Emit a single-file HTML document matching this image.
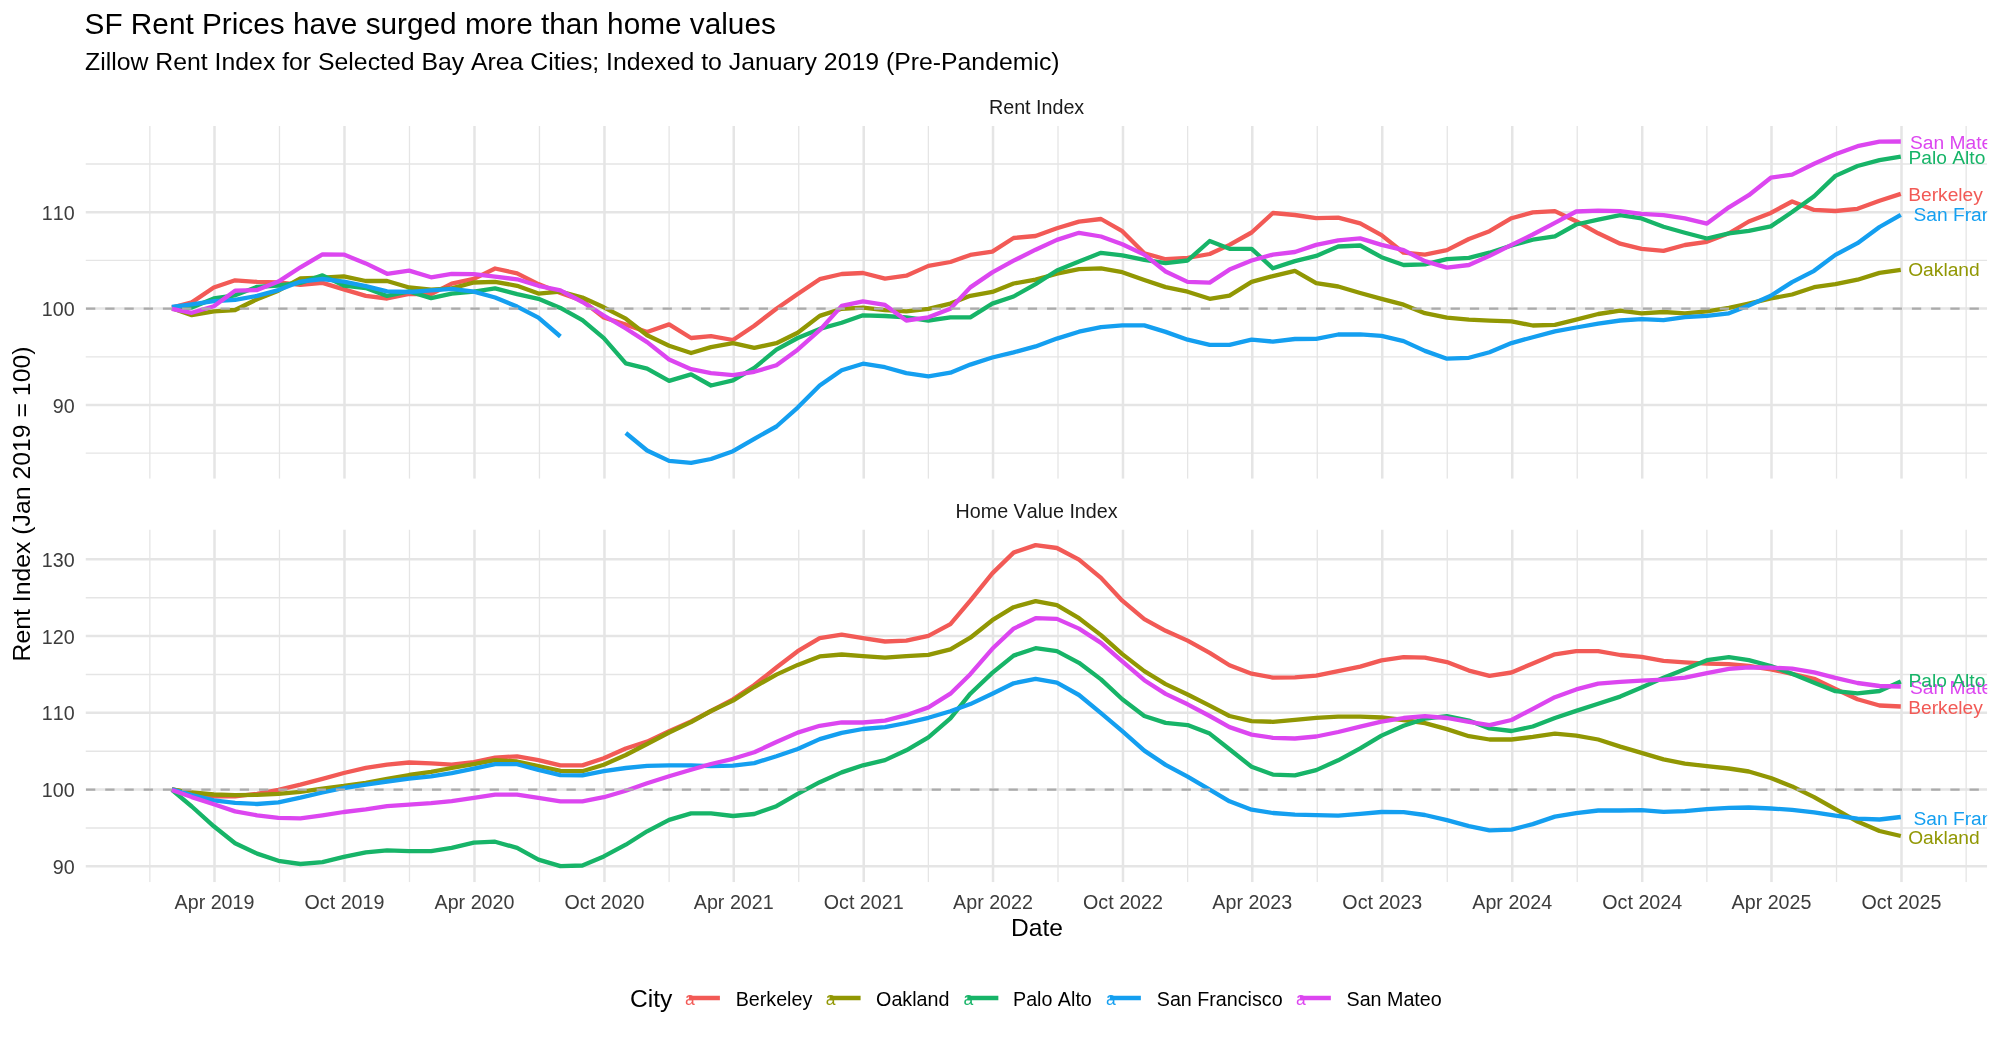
<!DOCTYPE html><html><head><meta charset="utf-8"><title>SF Rent Prices</title><style>
html,body{margin:0;padding:0;background:#fff;width:2000px;height:1042px;overflow:hidden}
svg{display:block;will-change:transform}text{font-family:"Liberation Sans",sans-serif;font-kerning:none}
</style></head><body>
<svg width="2000" height="1042" viewBox="0 0 2000 1042">
<defs>
<clipPath id="cT"><rect x="85.5" y="126.0" width="1901.7" height="352.8"/></clipPath>
<clipPath id="cB"><rect x="85.5" y="529.4" width="1901.7" height="352.8"/></clipPath>
</defs>
<text x="84.60" y="34.00" font-size="29.75" fill="#000">SF Rent Prices have surged more than home values</text>
<text x="85.10" y="70.00" font-size="24.8" fill="#000">Zillow Rent Index for Selected Bay Area Cities; Indexed to January 2019 (Pre-Pandemic)</text>
<g clip-path="url(#cT)" stroke="#E5E5E5">
<line x1="85.5" x2="1987.2" y1="453.20" y2="453.20" stroke-width="1.3"/>
<line x1="85.5" x2="1987.2" y1="356.80" y2="356.80" stroke-width="1.3"/>
<line x1="85.5" x2="1987.2" y1="260.40" y2="260.40" stroke-width="1.3"/>
<line x1="85.5" x2="1987.2" y1="164.00" y2="164.00" stroke-width="1.3"/>
<line x1="149.86" x2="149.86" y1="126.0" y2="478.8" stroke-width="1.3"/>
<line x1="279.49" x2="279.49" y1="126.0" y2="478.8" stroke-width="1.3"/>
<line x1="409.48" x2="409.48" y1="126.0" y2="478.8" stroke-width="1.3"/>
<line x1="539.47" x2="539.47" y1="126.0" y2="478.8" stroke-width="1.3"/>
<line x1="669.10" x2="669.10" y1="126.0" y2="478.8" stroke-width="1.3"/>
<line x1="798.73" x2="798.73" y1="126.0" y2="478.8" stroke-width="1.3"/>
<line x1="928.37" x2="928.37" y1="126.0" y2="478.8" stroke-width="1.3"/>
<line x1="1058.00" x2="1058.00" y1="126.0" y2="478.8" stroke-width="1.3"/>
<line x1="1187.63" x2="1187.63" y1="126.0" y2="478.8" stroke-width="1.3"/>
<line x1="1317.27" x2="1317.27" y1="126.0" y2="478.8" stroke-width="1.3"/>
<line x1="1447.25" x2="1447.25" y1="126.0" y2="478.8" stroke-width="1.3"/>
<line x1="1577.24" x2="1577.24" y1="126.0" y2="478.8" stroke-width="1.3"/>
<line x1="1706.87" x2="1706.87" y1="126.0" y2="478.8" stroke-width="1.3"/>
<line x1="1836.51" x2="1836.51" y1="126.0" y2="478.8" stroke-width="1.3"/>
<line x1="1966.14" x2="1966.14" y1="126.0" y2="478.8" stroke-width="1.3"/>
<line x1="85.5" x2="1987.2" y1="405.00" y2="405.00" stroke-width="2.5"/>
<line x1="85.5" x2="1987.2" y1="308.60" y2="308.60" stroke-width="2.5"/>
<line x1="85.5" x2="1987.2" y1="212.20" y2="212.20" stroke-width="2.5"/>
<line x1="214.50" x2="214.50" y1="126.0" y2="478.8" stroke-width="2.5"/>
<line x1="344.49" x2="344.49" y1="126.0" y2="478.8" stroke-width="2.5"/>
<line x1="474.48" x2="474.48" y1="126.0" y2="478.8" stroke-width="2.5"/>
<line x1="604.46" x2="604.46" y1="126.0" y2="478.8" stroke-width="2.5"/>
<line x1="733.74" x2="733.74" y1="126.0" y2="478.8" stroke-width="2.5"/>
<line x1="863.73" x2="863.73" y1="126.0" y2="478.8" stroke-width="2.5"/>
<line x1="993.01" x2="993.01" y1="126.0" y2="478.8" stroke-width="2.5"/>
<line x1="1122.99" x2="1122.99" y1="126.0" y2="478.8" stroke-width="2.5"/>
<line x1="1252.27" x2="1252.27" y1="126.0" y2="478.8" stroke-width="2.5"/>
<line x1="1382.26" x2="1382.26" y1="126.0" y2="478.8" stroke-width="2.5"/>
<line x1="1512.25" x2="1512.25" y1="126.0" y2="478.8" stroke-width="2.5"/>
<line x1="1642.23" x2="1642.23" y1="126.0" y2="478.8" stroke-width="2.5"/>
<line x1="1771.51" x2="1771.51" y1="126.0" y2="478.8" stroke-width="2.5"/>
<line x1="1901.50" x2="1901.50" y1="126.0" y2="478.8" stroke-width="2.5"/>
</g>
<g clip-path="url(#cB)" stroke="#E5E5E5">
<line x1="85.5" x2="1987.2" y1="827.98" y2="827.98" stroke-width="1.3"/>
<line x1="85.5" x2="1987.2" y1="751.23" y2="751.23" stroke-width="1.3"/>
<line x1="85.5" x2="1987.2" y1="674.48" y2="674.48" stroke-width="1.3"/>
<line x1="85.5" x2="1987.2" y1="597.73" y2="597.73" stroke-width="1.3"/>
<line x1="149.86" x2="149.86" y1="529.4" y2="882.2" stroke-width="1.3"/>
<line x1="279.49" x2="279.49" y1="529.4" y2="882.2" stroke-width="1.3"/>
<line x1="409.48" x2="409.48" y1="529.4" y2="882.2" stroke-width="1.3"/>
<line x1="539.47" x2="539.47" y1="529.4" y2="882.2" stroke-width="1.3"/>
<line x1="669.10" x2="669.10" y1="529.4" y2="882.2" stroke-width="1.3"/>
<line x1="798.73" x2="798.73" y1="529.4" y2="882.2" stroke-width="1.3"/>
<line x1="928.37" x2="928.37" y1="529.4" y2="882.2" stroke-width="1.3"/>
<line x1="1058.00" x2="1058.00" y1="529.4" y2="882.2" stroke-width="1.3"/>
<line x1="1187.63" x2="1187.63" y1="529.4" y2="882.2" stroke-width="1.3"/>
<line x1="1317.27" x2="1317.27" y1="529.4" y2="882.2" stroke-width="1.3"/>
<line x1="1447.25" x2="1447.25" y1="529.4" y2="882.2" stroke-width="1.3"/>
<line x1="1577.24" x2="1577.24" y1="529.4" y2="882.2" stroke-width="1.3"/>
<line x1="1706.87" x2="1706.87" y1="529.4" y2="882.2" stroke-width="1.3"/>
<line x1="1836.51" x2="1836.51" y1="529.4" y2="882.2" stroke-width="1.3"/>
<line x1="1966.14" x2="1966.14" y1="529.4" y2="882.2" stroke-width="1.3"/>
<line x1="85.5" x2="1987.2" y1="866.35" y2="866.35" stroke-width="2.5"/>
<line x1="85.5" x2="1987.2" y1="789.60" y2="789.60" stroke-width="2.5"/>
<line x1="85.5" x2="1987.2" y1="712.85" y2="712.85" stroke-width="2.5"/>
<line x1="85.5" x2="1987.2" y1="636.10" y2="636.10" stroke-width="2.5"/>
<line x1="85.5" x2="1987.2" y1="559.35" y2="559.35" stroke-width="2.5"/>
<line x1="214.50" x2="214.50" y1="529.4" y2="882.2" stroke-width="2.5"/>
<line x1="344.49" x2="344.49" y1="529.4" y2="882.2" stroke-width="2.5"/>
<line x1="474.48" x2="474.48" y1="529.4" y2="882.2" stroke-width="2.5"/>
<line x1="604.46" x2="604.46" y1="529.4" y2="882.2" stroke-width="2.5"/>
<line x1="733.74" x2="733.74" y1="529.4" y2="882.2" stroke-width="2.5"/>
<line x1="863.73" x2="863.73" y1="529.4" y2="882.2" stroke-width="2.5"/>
<line x1="993.01" x2="993.01" y1="529.4" y2="882.2" stroke-width="2.5"/>
<line x1="1122.99" x2="1122.99" y1="529.4" y2="882.2" stroke-width="2.5"/>
<line x1="1252.27" x2="1252.27" y1="529.4" y2="882.2" stroke-width="2.5"/>
<line x1="1382.26" x2="1382.26" y1="529.4" y2="882.2" stroke-width="2.5"/>
<line x1="1512.25" x2="1512.25" y1="529.4" y2="882.2" stroke-width="2.5"/>
<line x1="1642.23" x2="1642.23" y1="529.4" y2="882.2" stroke-width="2.5"/>
<line x1="1771.51" x2="1771.51" y1="529.4" y2="882.2" stroke-width="2.5"/>
<line x1="1901.50" x2="1901.50" y1="529.4" y2="882.2" stroke-width="2.5"/>
</g>
<g clip-path="url(#cT)" fill="none" stroke-width="4.3" stroke-linejoin="round" stroke-linecap="butt">
<polyline points="171.9,307.6 191.8,302.4 213.8,287.5 235.1,280.3 257.1,281.9 278.4,282.3 300.4,284.9 322.5,282.9 343.8,289.4 365.8,295.9 387.1,298.5 409.1,294.0 431.1,294.2 451.7,283.6 473.8,278.9 495.1,268.5 517.1,273.4 538.4,284.1 560.4,292.9 582.4,300.7 603.8,317.5 625.8,324.6 647.1,332.0 669.1,324.4 691.1,338.0 711.0,336.1 733.0,340.0 754.3,325.7 776.4,308.8 797.7,294.1 819.7,279.2 841.7,274.0 863.0,273.0 885.0,278.7 906.3,275.7 928.4,265.9 950.4,262.0 970.3,254.9 992.3,251.6 1013.6,238.0 1035.6,236.0 1056.9,228.2 1079.0,221.6 1101.0,219.0 1122.3,231.2 1144.3,253.3 1165.6,259.2 1187.6,257.9 1209.7,254.0 1229.5,244.9 1251.6,232.5 1272.9,213.0 1294.9,215.0 1316.2,218.2 1338.2,217.6 1360.2,223.4 1381.5,235.1 1403.6,252.7 1424.9,254.6 1446.9,250.1 1468.9,239.0 1489.5,231.2 1511.5,218.2 1532.8,212.4 1554.9,211.1 1576.2,221.2 1598.2,233.3 1620.2,243.7 1641.5,248.9 1663.5,250.9 1684.9,245.0 1706.9,241.8 1728.9,233.3 1748.8,221.5 1770.8,212.9 1792.1,201.5 1814.1,209.9 1835.4,211.0 1857.5,208.8 1879.5,200.7 1900.8,193.9" stroke="#F25A56"/>
<polyline points="171.9,308.3 191.8,315.2 213.8,311.3 235.1,310.0 257.1,299.2 278.4,290.7 300.4,278.4 322.5,277.7 343.8,276.4 365.8,281.0 387.1,281.0 409.1,287.5 431.1,289.7 451.7,288.4 473.8,282.5 495.1,281.9 517.1,285.8 538.4,293.6 560.4,291.6 582.4,297.5 603.8,307.3 625.8,318.7 647.1,335.3 669.1,345.8 691.1,353.0 711.0,347.1 733.0,343.2 754.3,347.8 776.4,343.2 797.7,332.8 819.7,315.9 841.7,308.8 863.0,307.6 885.0,310.1 906.3,311.4 928.4,308.8 950.4,303.6 970.3,295.8 992.3,291.9 1013.6,283.5 1035.6,279.6 1056.9,273.7 1079.0,269.2 1101.0,268.4 1122.3,272.2 1144.3,280.0 1165.6,287.1 1187.6,291.7 1209.7,298.8 1229.5,295.6 1251.6,281.9 1272.9,276.1 1294.9,270.9 1316.2,283.2 1338.2,286.5 1360.2,293.0 1381.5,298.9 1403.6,304.7 1424.9,313.2 1446.9,317.7 1468.9,319.7 1489.5,320.6 1511.5,321.4 1532.8,325.5 1554.9,324.9 1576.2,319.7 1598.2,314.0 1620.2,310.7 1641.5,313.3 1663.5,312.0 1684.9,313.3 1706.9,311.4 1728.9,307.9 1748.8,303.6 1770.8,298.4 1792.1,294.5 1814.1,287.2 1835.4,284.2 1857.5,279.7 1879.5,272.9 1900.8,269.8" stroke="#919703"/>
<polyline points="171.9,307.6 191.8,307.6 213.8,298.5 235.1,295.3 257.1,286.8 278.4,285.5 300.4,282.9 322.5,275.4 343.8,285.5 365.8,288.1 387.1,295.9 409.1,291.4 431.1,298.1 451.7,293.6 473.8,291.6 495.1,288.4 517.1,294.2 538.4,298.8 560.4,307.9 582.4,320.2 603.8,338.2 625.8,363.4 647.1,368.6 669.1,380.9 691.1,374.4 711.0,385.5 733.0,380.3 754.3,367.9 776.4,349.7 797.7,338.0 819.7,328.9 841.7,322.8 863.0,315.3 885.0,316.0 906.3,317.3 928.4,320.5 950.4,317.3 970.3,317.3 992.3,303.6 1013.6,296.5 1035.6,284.1 1056.9,270.5 1079.0,261.6 1101.0,252.8 1122.3,255.3 1144.3,259.8 1165.6,263.1 1187.6,260.5 1209.7,241.0 1229.5,248.8 1251.6,248.8 1272.9,268.3 1294.9,261.1 1316.2,255.9 1338.2,246.5 1360.2,245.5 1381.5,257.2 1403.6,265.0 1424.9,264.4 1446.9,259.2 1468.9,257.9 1489.5,252.7 1511.5,245.5 1532.8,239.7 1554.9,236.4 1576.2,224.5 1598.2,219.7 1620.2,215.1 1641.5,218.4 1663.5,226.8 1684.9,232.7 1706.9,238.5 1728.9,233.3 1748.8,230.8 1770.8,226.4 1792.1,212.0 1814.1,196.2 1835.4,175.9 1857.5,166.0 1879.5,160.2 1900.8,156.6" stroke="#17B468"/>
<polyline points="171.9,307.0 191.8,304.4 213.8,301.1 235.1,299.8 257.1,295.9 278.4,290.1 300.4,281.6 322.5,279.0 343.8,281.6 365.8,286.2 387.1,291.4 409.1,292.0 431.1,290.3 451.7,288.8 473.8,291.6 495.1,297.5 517.1,306.6 538.4,317.6 560.4,336.5" stroke="#149FF0"/>
<polyline points="625.8,433.0 647.1,450.5 669.1,460.9 691.1,462.9 711.0,459.0 733.0,451.2 754.3,438.8 776.4,426.5 797.7,407.6 819.7,385.5 841.7,370.2 863.0,363.7 885.0,367.2 906.3,373.1 928.4,376.3 950.4,372.7 970.3,364.6 992.3,357.5 1013.6,352.3 1035.6,346.4 1056.9,338.6 1079.0,331.7 1101.0,327.1 1122.3,325.4 1144.3,325.4 1165.6,331.9 1187.6,339.7 1209.7,344.9 1229.5,344.9 1251.6,339.7 1272.9,341.6 1294.9,339.0 1316.2,338.8 1338.2,334.5 1360.2,334.4 1381.5,335.9 1403.6,341.1 1424.9,350.9 1446.9,358.7 1468.9,357.8 1489.5,352.2 1511.5,343.1 1532.8,337.2 1554.9,331.4 1576.2,327.5 1598.2,323.7 1620.2,320.5 1641.5,319.2 1663.5,320.1 1684.9,317.2 1706.9,315.9 1728.9,313.3 1748.8,305.5 1770.8,295.8 1792.1,282.1 1814.1,270.8 1835.4,254.9 1857.5,243.2 1879.5,227.0 1900.8,214.9" stroke="#149FF0"/>
<polyline points="171.9,308.9 191.8,312.8 213.8,306.3 235.1,290.7 257.1,290.1 278.4,281.6 300.4,267.3 322.5,254.3 343.8,254.6 365.8,263.4 387.1,273.8 409.1,270.6 431.1,277.3 451.7,273.8 473.8,274.1 495.1,276.7 517.1,279.3 538.4,285.8 560.4,290.3 582.4,302.0 603.8,315.5 625.8,328.5 647.1,342.1 669.1,359.5 691.1,369.2 711.0,373.1 733.0,375.1 754.3,371.8 776.4,365.3 797.7,349.7 819.7,330.2 841.7,305.9 863.0,301.3 885.0,304.9 906.3,320.5 928.4,317.3 950.4,308.8 970.3,287.4 992.3,272.4 1013.6,260.7 1035.6,249.7 1056.9,239.9 1079.0,232.8 1101.0,236.5 1122.3,244.2 1144.3,254.6 1165.6,271.5 1187.6,281.9 1209.7,282.6 1229.5,269.6 1251.6,260.5 1272.9,254.6 1294.9,252.0 1316.2,244.9 1338.2,240.3 1360.2,238.4 1381.5,244.9 1403.6,250.1 1424.9,261.1 1446.9,267.6 1468.9,265.0 1489.5,255.9 1511.5,244.9 1532.8,234.5 1554.9,222.8 1576.2,211.5 1598.2,210.6 1620.2,211.2 1641.5,213.8 1663.5,215.1 1684.9,218.4 1706.9,223.6 1728.9,207.3 1748.8,195.2 1770.8,177.7 1792.1,174.6 1814.1,163.8 1835.4,154.3 1857.5,146.2 1879.5,141.7 1900.8,141.5" stroke="#DC46F0"/>
</g>
<g clip-path="url(#cB)" fill="none" stroke-width="4.3" stroke-linejoin="round" stroke-linecap="butt">
<polyline points="171.9,789.3 191.8,793.2 213.8,796.4 235.1,796.4 257.1,793.8 278.4,789.9 300.4,784.7 322.5,778.9 343.8,773.0 365.8,767.8 387.1,764.6 409.1,762.5 431.1,763.4 451.7,764.7 473.8,762.1 495.1,757.6 517.1,756.3 538.4,760.2 560.4,765.4 582.4,765.4 603.8,758.2 625.8,748.5 647.1,741.6 669.1,731.2 691.1,721.4 711.0,711.0 733.0,699.3 754.3,685.0 776.4,667.5 797.7,651.2 819.7,638.2 841.7,634.6 863.0,638.2 885.0,641.5 906.3,640.6 928.4,635.8 950.4,624.1 970.3,600.7 992.3,573.4 1013.6,552.6 1035.6,545.1 1056.9,548.0 1079.0,559.7 1101.0,577.9 1122.3,600.7 1144.3,619.1 1165.6,630.8 1187.6,640.6 1209.7,652.9 1229.5,665.3 1251.6,673.7 1272.9,677.6 1294.9,677.4 1316.2,675.7 1338.2,671.1 1360.2,666.6 1381.5,660.4 1403.6,657.2 1424.9,657.6 1446.9,662.1 1468.9,670.6 1489.5,675.8 1511.5,672.5 1532.8,663.4 1554.9,654.3 1576.2,651.1 1598.2,651.1 1620.2,655.0 1641.5,656.9 1663.5,660.8 1684.9,662.4 1706.9,663.7 1728.9,664.1 1748.8,666.0 1770.8,669.3 1792.1,673.8 1814.1,678.8 1835.4,689.0 1857.5,699.2 1879.5,705.5 1900.8,706.5" stroke="#F25A56"/>
<polyline points="171.9,789.3 191.8,792.5 213.8,794.5 235.1,795.1 257.1,794.9 278.4,793.8 300.4,791.9 322.5,788.6 343.8,786.0 365.8,782.8 387.1,778.9 409.1,775.0 431.1,771.9 451.7,768.0 473.8,764.1 495.1,760.2 517.1,761.5 538.4,766.0 560.4,770.9 582.4,771.2 603.8,764.7 625.8,755.0 647.1,744.0 669.1,732.5 691.1,722.1 711.0,711.0 733.0,700.6 754.3,687.0 776.4,674.6 797.7,664.9 819.7,656.4 841.7,654.5 863.0,656.2 885.0,657.7 906.3,656.2 928.4,654.9 950.4,649.4 970.3,637.7 992.3,620.2 1013.6,607.2 1035.6,601.1 1056.9,605.2 1079.0,618.2 1101.0,635.1 1122.3,654.1 1144.3,671.1 1165.6,684.1 1187.6,694.5 1209.7,705.6 1229.5,716.0 1251.6,721.2 1272.9,721.8 1294.9,719.9 1316.2,717.9 1338.2,716.6 1360.2,716.7 1381.5,717.5 1403.6,720.0 1424.9,723.2 1446.9,729.1 1468.9,736.2 1489.5,739.5 1511.5,739.5 1532.8,736.9 1554.9,733.6 1576.2,735.6 1598.2,739.5 1620.2,746.6 1641.5,752.9 1663.5,759.4 1684.9,763.6 1706.9,766.2 1728.9,768.5 1748.8,771.5 1770.8,778.0 1792.1,786.4 1814.1,797.1 1835.4,809.2 1857.5,821.6 1879.5,831.0 1900.8,836.0" stroke="#919703"/>
<polyline points="171.9,789.9 191.8,806.5 213.8,826.3 235.1,843.2 257.1,853.6 278.4,860.8 300.4,864.0 322.5,862.1 343.8,856.9 365.8,852.3 387.1,850.4 409.1,851.1 431.1,851.2 451.7,847.9 473.8,842.7 495.1,841.7 517.1,847.9 538.4,859.6 560.4,866.1 582.4,865.5 603.8,856.4 625.8,844.7 647.1,831.3 669.1,819.9 691.1,813.4 711.0,813.4 733.0,816.0 754.3,814.0 776.4,806.2 797.7,793.9 819.7,782.2 841.7,772.4 863.0,765.3 885.0,760.1 906.3,750.3 928.4,737.3 950.4,718.4 970.3,693.7 992.3,672.9 1013.6,655.6 1035.6,648.2 1056.9,651.1 1079.0,662.8 1101.0,679.4 1122.3,699.3 1144.3,716.0 1165.6,722.9 1187.6,725.1 1209.7,733.6 1229.5,749.3 1251.6,766.8 1272.9,774.6 1294.9,775.3 1316.2,770.1 1338.2,760.3 1360.2,748.3 1381.5,735.6 1403.6,725.8 1424.9,718.7 1446.9,716.1 1468.9,720.6 1489.5,728.4 1511.5,731.0 1532.8,726.5 1554.9,718.0 1576.2,710.9 1598.2,703.7 1620.2,696.6 1641.5,687.5 1663.5,677.7 1684.9,669.3 1706.9,660.2 1728.9,657.2 1748.8,660.2 1770.8,666.0 1792.1,673.8 1814.1,682.7 1835.4,691.2 1857.5,693.4 1879.5,691.0 1900.8,681.5" stroke="#17B468"/>
<polyline points="171.9,789.3 191.8,795.1 213.8,800.3 235.1,802.9 257.1,804.0 278.4,802.3 300.4,797.7 322.5,792.5 343.8,788.0 365.8,784.7 387.1,781.5 409.1,778.6 431.1,776.4 451.7,773.2 473.8,768.6 495.1,764.1 517.1,764.1 538.4,769.9 560.4,775.1 582.4,775.4 603.8,771.2 625.8,768.0 647.1,765.8 669.1,765.3 691.1,765.3 711.0,766.2 733.0,765.7 754.3,763.1 776.4,756.2 797.7,749.0 819.7,739.1 841.7,732.9 863.0,729.0 885.0,727.1 906.3,723.0 928.4,717.8 950.4,711.3 970.3,704.1 992.3,693.7 1013.6,683.3 1035.6,678.8 1056.9,682.7 1079.0,695.0 1101.0,713.2 1122.3,731.2 1144.3,750.6 1165.6,764.9 1187.6,776.6 1209.7,789.6 1229.5,801.3 1251.6,809.7 1272.9,813.0 1294.9,814.7 1316.2,815.2 1338.2,815.6 1360.2,813.8 1381.5,812.0 1403.6,812.2 1424.9,815.0 1446.9,820.2 1468.9,826.1 1489.5,830.4 1511.5,829.6 1532.8,824.1 1554.9,816.6 1576.2,813.1 1598.2,810.5 1620.2,810.5 1641.5,810.2 1663.5,811.8 1684.9,811.1 1706.9,809.2 1728.9,807.9 1748.8,807.5 1770.8,808.5 1792.1,809.8 1814.1,812.3 1835.4,815.7 1857.5,818.7 1879.5,819.5 1900.8,817.0" stroke="#149FF0"/>
<polyline points="171.9,789.9 191.8,797.1 213.8,804.2 235.1,811.4 257.1,815.3 278.4,817.9 300.4,818.3 322.5,815.3 343.8,812.0 365.8,809.4 387.1,806.2 409.1,804.6 431.1,803.1 451.7,801.1 473.8,797.9 495.1,794.6 517.1,794.6 538.4,797.9 560.4,801.4 582.4,801.4 603.8,797.2 625.8,790.7 647.1,783.2 669.1,776.3 691.1,769.8 711.0,764.0 733.0,758.8 754.3,752.3 776.4,742.0 797.7,732.6 819.7,725.8 841.7,722.4 863.0,722.5 885.0,720.6 906.3,715.2 928.4,707.4 950.4,693.7 970.3,674.2 992.3,648.8 1013.6,628.6 1035.6,618.2 1056.9,618.9 1079.0,628.6 1101.0,642.9 1122.3,661.3 1144.3,680.2 1165.6,693.9 1187.6,704.3 1209.7,716.0 1229.5,727.1 1251.6,734.6 1272.9,737.8 1294.9,738.5 1316.2,736.5 1338.2,732.0 1360.2,726.7 1381.5,721.7 1403.6,718.0 1424.9,716.1 1446.9,718.0 1468.9,721.9 1489.5,725.2 1511.5,720.0 1532.8,708.9 1554.9,697.2 1576.2,689.4 1598.2,683.6 1620.2,681.9 1641.5,680.6 1663.5,679.7 1684.9,677.7 1706.9,673.2 1728.9,668.9 1748.8,667.3 1770.8,667.6 1792.1,668.6 1814.1,672.3 1835.4,677.9 1857.5,683.0 1879.5,686.0 1900.8,686.5" stroke="#DC46F0"/>
</g>
<line x1="85.5" x2="1987.2" y1="308.60" y2="308.60" stroke="#ABABAB" stroke-width="2.3" stroke-dasharray="9.3,9.92" stroke-dashoffset="-0.5"/>
<line x1="85.5" x2="1987.2" y1="789.60" y2="789.60" stroke="#ABABAB" stroke-width="2.3" stroke-dasharray="9.3,9.92" stroke-dashoffset="-0.5"/>
<g clip-path="url(#cT)">
<text x="1910.00" y="148.60" font-size="19.2" fill="#DC46F0">San Mateo</text>
<text x="1908.50" y="163.80" font-size="19.2" fill="#17B468">Palo Alto</text>
<text x="1908.20" y="201.00" font-size="19.2" fill="#F25A56">Berkeley</text>
<text x="1913.50" y="221.00" font-size="19.2" fill="#149FF0">San Francisco</text>
<text x="1908.20" y="275.70" font-size="19.2" fill="#919703">Oakland</text>
</g>
<g clip-path="url(#cB)">
<text x="1910.00" y="693.50" font-size="19.2" fill="#DC46F0">San Mateo</text>
<text x="1908.50" y="687.20" font-size="19.2" fill="#17B468">Palo Alto</text>
<text x="1908.20" y="713.50" font-size="19.2" fill="#F25A56">Berkeley</text>
<text x="1913.50" y="824.50" font-size="19.2" fill="#149FF0">San Francisco</text>
<text x="1908.20" y="844.00" font-size="19.2" fill="#919703">Oakland</text>
</g>
<text x="1036.60" y="114.00" font-size="19.7" fill="#1A1A1A" text-anchor="middle">Rent Index</text>
<text x="1036.60" y="517.80" font-size="19.7" fill="#1A1A1A" text-anchor="middle">Home Value Index</text>
<text x="74.60" y="412.60" font-size="19.7" fill="#3C3C3C" text-anchor="end" transform="matrix(1,0,0,1.065,0,-26.819)">90</text>
<text x="74.60" y="316.20" font-size="19.7" fill="#3C3C3C" text-anchor="end" transform="matrix(1,0,0,1.065,0,-20.553)">100</text>
<text x="74.60" y="219.80" font-size="19.7" fill="#3C3C3C" text-anchor="end" transform="matrix(1,0,0,1.065,0,-14.287)">110</text>
<text x="74.60" y="873.95" font-size="19.7" fill="#3C3C3C" text-anchor="end" transform="matrix(1,0,0,1.065,0,-56.807)">90</text>
<text x="74.60" y="797.20" font-size="19.7" fill="#3C3C3C" text-anchor="end" transform="matrix(1,0,0,1.065,0,-51.818)">100</text>
<text x="74.60" y="720.45" font-size="19.7" fill="#3C3C3C" text-anchor="end" transform="matrix(1,0,0,1.065,0,-46.829)">110</text>
<text x="74.60" y="643.70" font-size="19.7" fill="#3C3C3C" text-anchor="end" transform="matrix(1,0,0,1.065,0,-41.840)">120</text>
<text x="74.60" y="566.95" font-size="19.7" fill="#3C3C3C" text-anchor="end" transform="matrix(1,0,0,1.065,0,-36.852)">130</text>
<text x="214.50" y="908.60" font-size="19.7" fill="#3C3C3C" text-anchor="middle" transform="matrix(1,0,0,1.045,0,-40.887)">Apr 2019</text>
<text x="344.49" y="908.60" font-size="19.7" fill="#3C3C3C" text-anchor="middle" transform="matrix(1,0,0,1.045,0,-40.887)">Oct 2019</text>
<text x="474.48" y="908.60" font-size="19.7" fill="#3C3C3C" text-anchor="middle" transform="matrix(1,0,0,1.045,0,-40.887)">Apr 2020</text>
<text x="604.46" y="908.60" font-size="19.7" fill="#3C3C3C" text-anchor="middle" transform="matrix(1,0,0,1.045,0,-40.887)">Oct 2020</text>
<text x="733.74" y="908.60" font-size="19.7" fill="#3C3C3C" text-anchor="middle" transform="matrix(1,0,0,1.045,0,-40.887)">Apr 2021</text>
<text x="863.73" y="908.60" font-size="19.7" fill="#3C3C3C" text-anchor="middle" transform="matrix(1,0,0,1.045,0,-40.887)">Oct 2021</text>
<text x="993.01" y="908.60" font-size="19.7" fill="#3C3C3C" text-anchor="middle" transform="matrix(1,0,0,1.045,0,-40.887)">Apr 2022</text>
<text x="1122.99" y="908.60" font-size="19.7" fill="#3C3C3C" text-anchor="middle" transform="matrix(1,0,0,1.045,0,-40.887)">Oct 2022</text>
<text x="1252.27" y="908.60" font-size="19.7" fill="#3C3C3C" text-anchor="middle" transform="matrix(1,0,0,1.045,0,-40.887)">Apr 2023</text>
<text x="1382.26" y="908.60" font-size="19.7" fill="#3C3C3C" text-anchor="middle" transform="matrix(1,0,0,1.045,0,-40.887)">Oct 2023</text>
<text x="1512.25" y="908.60" font-size="19.7" fill="#3C3C3C" text-anchor="middle" transform="matrix(1,0,0,1.045,0,-40.887)">Apr 2024</text>
<text x="1642.23" y="908.60" font-size="19.7" fill="#3C3C3C" text-anchor="middle" transform="matrix(1,0,0,1.045,0,-40.887)">Oct 2024</text>
<text x="1771.51" y="908.60" font-size="19.7" fill="#3C3C3C" text-anchor="middle" transform="matrix(1,0,0,1.045,0,-40.887)">Apr 2025</text>
<text x="1901.50" y="908.60" font-size="19.7" fill="#3C3C3C" text-anchor="middle" transform="matrix(1,0,0,1.045,0,-40.887)">Oct 2025</text>
<text x="1037.00" y="936.30" font-size="24.6" fill="#000" text-anchor="middle">Date</text>
<text transform="translate(30,504) rotate(-90)" font-size="24.8" fill="#000" text-anchor="middle">Rent Index (Jan 2019 = 100)</text>
<text x="630.00" y="1007.00" font-size="24.6" fill="#000">City</text>
<line x1="688.80" x2="719.90" y1="998" y2="998" stroke="#F25A56" stroke-width="4.5"/>
<text x="685.00" y="1004.70" font-size="17.5" fill="#F25A56">a</text>
<text x="735.70" y="1005.50" font-size="19.7" fill="#000">Berkeley</text>
<line x1="829.50" x2="860.60" y1="998" y2="998" stroke="#919703" stroke-width="4.5"/>
<text x="825.70" y="1004.70" font-size="17.5" fill="#919703">a</text>
<text x="876.10" y="1005.50" font-size="19.7" fill="#000">Oakland</text>
<line x1="967.25" x2="998.35" y1="998" y2="998" stroke="#17B468" stroke-width="4.5"/>
<text x="963.45" y="1004.70" font-size="17.5" fill="#17B468">a</text>
<text x="1013.00" y="1005.50" font-size="19.7" fill="#000">Palo Alto</text>
<line x1="1109.75" x2="1140.85" y1="998" y2="998" stroke="#149FF0" stroke-width="4.5"/>
<text x="1105.95" y="1004.70" font-size="17.5" fill="#149FF0">a</text>
<text x="1156.75" y="1005.50" font-size="19.7" fill="#000">San Francisco</text>
<line x1="1299.75" x2="1330.85" y1="998" y2="998" stroke="#DC46F0" stroke-width="4.5"/>
<text x="1295.95" y="1004.70" font-size="17.5" fill="#DC46F0">a</text>
<text x="1346.50" y="1005.50" font-size="19.7" fill="#000">San Mateo</text>
</svg></body></html>
